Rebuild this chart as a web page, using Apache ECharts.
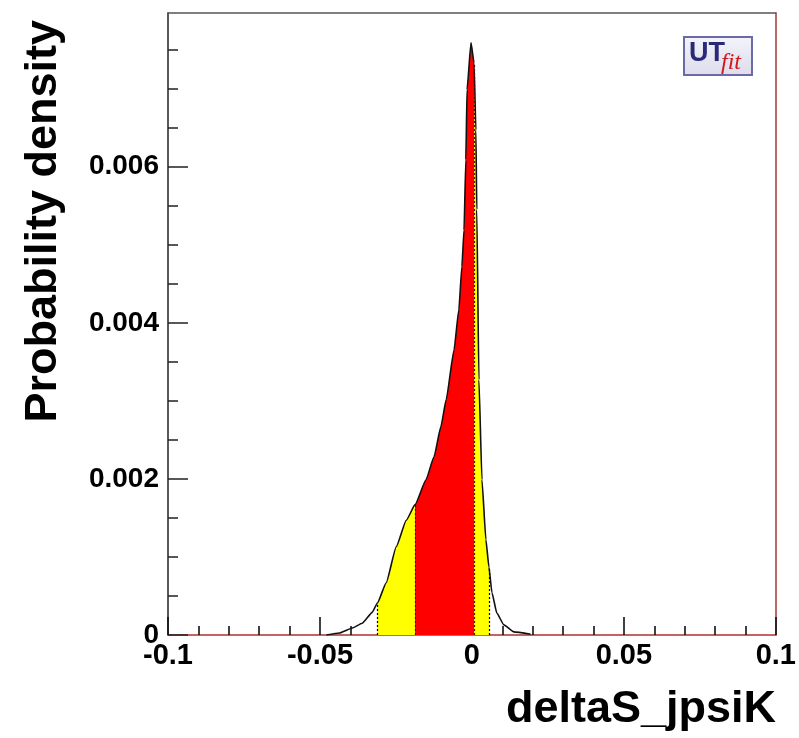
<!DOCTYPE html>
<html>
<head>
<meta charset="utf-8">
<script src="https://cdn.jsdelivr.net/npm/echarts@6/dist/echarts.min.js"></script>
<style>
  html, body { margin: 0; padding: 0; background: #fff; }
  #chart { width: 799px; height: 738px; }
</style>
</head>
<body>
<div id="chart"></div>
<script>
// Posterior of deltaS_jpsiK: sampled points of the density curve
const xs = [-0.0479, -0.0436, -0.0393, -0.0361, -0.0328, -0.0311, -0.0282, -0.0249, -0.0216,
  -0.0187, -0.0151, -0.0125, -0.0102, -0.0085, -0.0059, -0.0043, -0.0033, -0.0026, -0.0020,
  -0.0016, -0.0003, 0.0007, 0.0013, 0.0016, 0.0023, 0.0033, 0.0046, 0.0056, 0.0066, 0.0082,
  0.0105, 0.0138, 0.0193];
const ys = [0.0, 0.000026, 0.00009, 0.00015, 0.00029, 0.00041, 0.00067, 0.00113, 0.00147,
  0.00167, 0.00199, 0.00228, 0.00267, 0.00301, 0.00365, 0.00417, 0.00472, 0.00519, 0.00609,
  0.00699, 0.00759, 0.00733, 0.00647, 0.00545, 0.00327, 0.00199, 0.00122, 0.00087, 0.00054, 0.00028,
  0.00013, 0.00004, 0.00001];

// 68% (red) and 95% (yellow) probability region edges, with the density at each edge
const edges95 = [-0.0311, 0.0056];
const edges68 = [-0.0187, 0.0007];
const edgeHeights95 = [0.00041, 0.00087];
const edgeHeights68 = [0.00167, 0.00733];

// Axis ticks
const xTicks = [-0.1, -0.05, 0, 0.05, 0.1];
const yMajorTicks = [0, 0.002, 0.004, 0.006];
const yMinorTicks = [0.0005, 0.001, 0.0015, 0.0025, 0.003, 0.0035, 0.0045, 0.005, 0.0055, 0.0065, 0.007, 0.0075];
const yMax = 0.00797;

const points = xs.map((x, i) => [x, ys[i]]);

const font = '"Liberation Sans", Arial, Helvetica, sans-serif';

const edgeLines = [];
edges95.forEach((x, i) => edgeLines.push([{ coord: [x, 0] }, { coord: [x, edgeHeights95[i]], lineStyle: { color: '#000' } }]));
edges68.forEach((x, i) => edgeLines.push([{ coord: [x, 0] }, { coord: [x, edgeHeights68[i]], lineStyle: { color: '#6a0000' } }]));

const chart = echarts.init(document.getElementById('chart'), null, { renderer: 'canvas' });

chart.setOption({
  animation: false,
  backgroundColor: '#fff',
  grid: { left: 168, right: 21, top: 13, bottom: 103 },
  xAxis: [{
    type: 'value', min: -0.1, max: 0.1, interval: 0.05, position: 'bottom',
    axisLine: { onZero: false, lineStyle: { color: '#b03030', width: 1.5 } },
    axisTick: { inside: true, length: 18, lineStyle: { color: '#111', width: 1.6 } },
    minorTick: { show: true, splitNumber: 5, length: 9, lineStyle: { color: '#111', width: 1.6 } },
    splitLine: { show: false },
    axisLabel: {
      margin: 6, color: '#000', fontFamily: font, fontWeight: 'bold', fontSize: 29,
      formatter: v => xTicks.some(t => Math.abs(t - v) < 1e-9) ? String(+v.toFixed(3)) : ''
    }
  }, {
    type: 'value', min: -0.1, max: 0.1, position: 'top',
    axisLine: { onZero: false, lineStyle: { color: '#555', width: 1.5 } },
    axisTick: { show: false }, axisLabel: { show: false }, splitLine: { show: false }
  }],
  yAxis: [{
    type: 'value', min: 0, max: yMax, position: 'left',
    axisLine: { show: true, onZero: false, lineStyle: { color: '#222', width: 1.5 } },
    axisTick: { inside: true, length: 20, customValues: yMajorTicks, lineStyle: { color: '#222', width: 1.5 } },
    splitLine: { show: false },
    axisLabel: {
      customValues: yMajorTicks, margin: 9, color: '#000', fontFamily: font, fontWeight: 'bold', fontSize: 28,
      formatter: v => String(+v.toFixed(4))
    }
  }, {
    type: 'value', min: 0, max: yMax, position: 'left',
    axisLine: { show: false, onZero: false },
    axisTick: { inside: true, length: 10, customValues: yMinorTicks, lineStyle: { color: '#222', width: 1.5 } },
    axisLabel: { show: false }, splitLine: { show: false }
  }, {
    type: 'value', min: 0, max: yMax, position: 'right',
    axisLine: { show: true, onZero: false, lineStyle: { color: '#a03838', width: 1.5 } },
    axisTick: { show: false }, axisLabel: { show: false }, splitLine: { show: false }
  }],
  visualMap: {
    type: 'piecewise', show: false, dimension: 0, seriesIndex: 0,
    pieces: [
      { lt: edges95[0], color: 'rgba(255,255,255,0)' },
      { gte: edges95[0], lt: edges68[0], color: '#ffff00' },
      { gte: edges68[0], lt: edges68[1], color: '#ff0000' },
      { gte: edges68[1], lt: edges95[1], color: '#ffff00' },
      { gte: edges95[1], color: 'rgba(255,255,255,0)' }
    ]
  },
  series: [{
    type: 'line', data: points, showSymbol: false, symbol: 'none',
    smooth: 0.15, smoothMonotone: 'x',
    lineStyle: { width: 0 },
    areaStyle: { opacity: 1 },
    silent: true, z: 2
  }, {
    type: 'line', data: points, showSymbol: false, symbol: 'none',
    smooth: 0.15, smoothMonotone: 'x',
    lineStyle: { color: '#111', width: 1.6 },
    silent: true, z: 4,
    markLine: {
      silent: true, symbol: 'none', label: { show: false },
      lineStyle: { type: [2, 2], width: 1.2, color: '#000' },
      data: edgeLines
    }
  }],
  graphic: [
    {
      type: 'text', x: 44, y: 20, rotation: Math.PI / 2,
      style: { text: 'Probability density', fill: '#000', font: 'bold 45px ' + font, align: 'right', verticalAlign: 'middle' }
    },
    {
      type: 'text', x: 776, y: 710,
      style: { text: 'deltaS_jpsiK', fill: '#000', font: 'bold 45px ' + font, align: 'right', verticalAlign: 'middle' }
    },
    {
      type: 'group', x: 684, y: 37,
      children: [
        { type: 'rect', shape: { x: 0, y: 0, width: 68, height: 38 },
          style: { fill: { type: 'linear', x: 0, y: 0, x2: 0, y2: 1, colorStops: [{ offset: 0, color: '#f4f4fb' }, { offset: 1, color: '#dcdcec' }] },
                   stroke: '#6a6aa8', lineWidth: 2 } },
        { type: 'text', x: 5, y: 3, style: { text: 'UT', fill: '#2a2a78', font: 'bold 27px ' + font } },
        { type: 'text', x: 37, y: 14, style: { text: 'fit', fill: '#d01818', font: 'italic 24px "Liberation Serif", "DejaVu Serif", serif' } }
      ]
    }
  ]
});
</script>
</body>
</html>
